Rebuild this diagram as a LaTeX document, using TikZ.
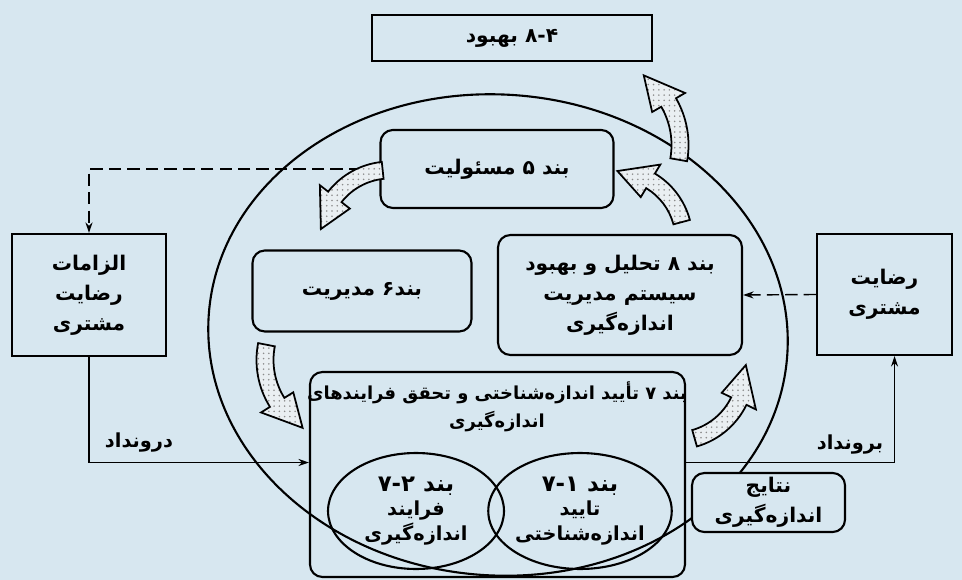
\documentclass[tikz,border=0pt]{standalone}
\usepackage{fontspec}
\usetikzlibrary{arrows.meta,positioning,shapes.geometric,patterns}
\newfontfamily\arabicfont[Script=Arabic]{DejaVu Sans}
\TeXXeTstate=1
\newcommand{\fatxt}[1]{\beginR #1\endR}
\definecolor{bgblue}{RGB}{215,231,240}
\definecolor{dotfill}{RGB}{234,239,242}

% bent block arrow: centre x, centre y, radius, tail angle, head base angle, tip angle
\newcommand{\bentarrow}[6]{%
  \draw[fatarr, shift={(#1,#2)}]
    ({#4}:{#3+8.5}) arc[start angle=#4, end angle=#5, radius={#3+8.5}]
    -- ({#5}:{#3+19}) -- ({#6}:{#3}) -- ({#5}:{#3-19}) -- ({#5}:{#3-8.5})
    arc[start angle=#5, end angle=#4, radius={#3-8.5}] -- cycle;}

\begin{document}
\begin{tikzpicture}[x=0.02cm, y=-0.02cm,
  txt/.style={font=\arabicfont\bfseries\fontsize{11.5}{17}\selectfont, align=center},
  box/.style={txt, draw, line width=1.2pt, rounded corners=7pt, inner sep=0pt},
  sqbox/.style={txt, draw, line width=1.2pt, inner sep=0pt},
  subell/.style={draw, ellipse, line width=1.2pt, inner sep=0pt, align=center,
                 minimum width=3.52cm, minimum height=2.32cm,
                 font=\arabicfont\bfseries\fontsize{11}{14}\selectfont},
  arr/.style={-{Stealth[length=6pt, width=4pt]}, line width=0.8pt},
  dasharr/.style={arr, dash pattern=on 7pt off 3.5pt},
  fatarr/.style={line width=1pt, preaction={fill=dotfill}, pattern=dots, pattern color=black!45},
  lbl/.style={font=\arabicfont\bfseries\fontsize{11}{14}\selectfont},
]
\useasboundingbox (0,0) rectangle (962,580);
\fill[bgblue] (0,0) rectangle (962,580);

% --- outer loop ---
\node[draw, ellipse, rotate=-4, line width=1.2pt, minimum width=11.6cm, minimum height=9.62cm] (loop) at (498,335) {};

% --- boxes on the loop ---
\node[sqbox, minimum width=5.6cm, minimum height=0.92cm] (impr) at (512,38) {\fatxt{۸-۴ بهبود}};
\node[box, minimum width=4.66cm, minimum height=1.56cm] (resp) at (497,169) {\fatxt{بند ۵ مسئولیت}};
\node[box, minimum width=4.38cm, minimum height=1.62cm] (mgmt) at (362,291) {\fatxt{بند۶ مدیریت}};
\node[box, minimum width=4.88cm, minimum height=2.4cm] (anal) at (620,295)
  {\fatxt{بند ۸ تحلیل و بهبود}\\ \fatxt{سیستم مدیریت}\\ \fatxt{اندازه‌گیری}};

% --- clause 7 ---
\node[box, minimum width=7.5cm, minimum height=4.1cm] (verif) at (497.5,474.5) {};
\node[txt, font=\arabicfont\bfseries\fontsize{10.2}{16}\selectfont] (veriftl) at (497,407)
  {\fatxt{بند ۷  تأیید اندازه‌شناختی و تحقق فرایندهای}\\ \fatxt{اندازه‌گیری}};
\node[subell] (proc) at (416,511)
  {{\fontsize{13}{16}\selectfont\fatxt{بند ۷-۲}}\\ \fatxt{فرایند}\\ \fatxt{اندازه‌گیری}};
\node[subell] (conf) at (580,511)
  {{\fontsize{13}{16}\selectfont\fatxt{بند ۷-۱}}\\ \fatxt{تایید}\\ \fatxt{اندازه‌شناختی}};
\node[box, fill=bgblue, minimum width=3.06cm, minimum height=1.18cm] (res) at (768.5,502.5)
  {\fatxt{نتایج}\\ \fatxt{اندازه‌گیری}};

% --- customer side ---
\node[sqbox, minimum width=3.08cm, minimum height=2.44cm] (req) at (89,295)
  {\fatxt{الزامات}\\ \fatxt{رضایت}\\ \fatxt{مشتری}};
\node[sqbox, minimum width=2.7cm, minimum height=2.42cm] (sat) at (884.5,294.5)
  {\fatxt{رضایت}\\ \fatxt{مشتری}};

\draw[dasharr] (resp.west) -| (req.north);
\draw[dasharr] (sat.west) -- (anal.east);
\draw[arr] (req.south) |- ([yshift=0.24cm]verif.west);
\draw[arr] ([yshift=0.24cm]verif.east) -| ([xshift=0.2cm]sat.south);
\node[lbl] (inlbl) at (139,443) {\fatxt{درونداد}};
\node[lbl] (outlbl) at (850,445) {\fatxt{برونداد}};

% --- bent arrows round the loop ---
\bentarrow{390}{240}{70}{264}{218}{189}
\bentarrow{345}{360}{80}{191}{148}{122}
\bentarrow{675}{370}{71}{74}{26}{-4}
\bentarrow{615}{240}{69}{345}{301}{272}
\bentarrow{595}{145}{85}{10}{-30}{-55}
\end{tikzpicture}
\end{document}
